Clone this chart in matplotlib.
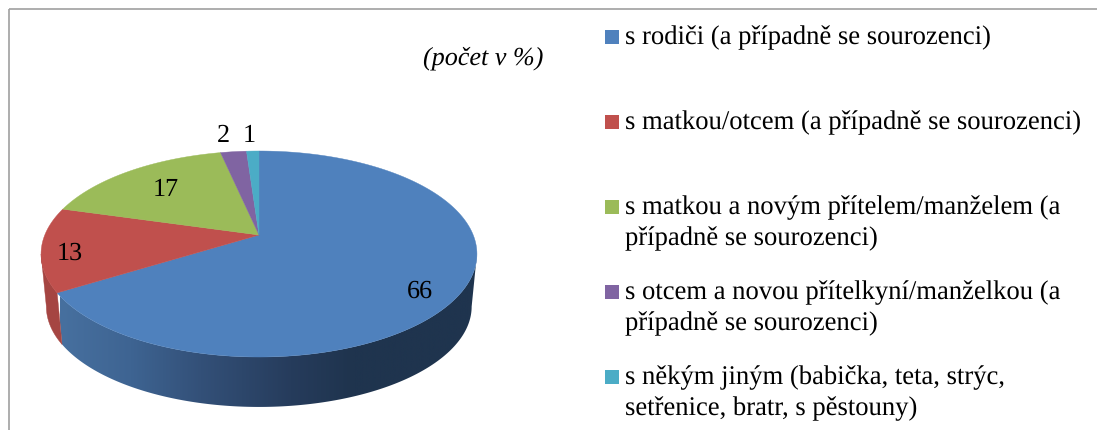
import numpy as np
import matplotlib
matplotlib.use('Agg')
import matplotlib.pyplot as plt
from matplotlib.colors import LinearSegmentedColormap, to_rgb
from matplotlib.patches import Polygon

# shares (labels show the rounded numbers)
categories = [
    's rodiči (a případně se sourozenci)',
    's matkou/otcem (a případně se sourozenci)',
    's matkou a novým přítelem/manželem (a\npřípadně se sourozenci)',
    's otcem a novou přítelkyní/manželkou (a\npřípadně se sourozenci)',
    's někým jiným (babička, teta, strýc,\nsetřenice, bratr, s pěstouny)',
]
values = [66.2, 13.2, 17.2, 2.3, 1.1]
data_labels = ['66', '13', '17', '2', '1']
colors = ['#4F81BD', '#C0504D', '#9BBB59', '#8064A2', '#4BACC6']

plt.rcParams['font.family'] = ['Liberation Serif', 'DejaVu Serif']
plt.rcParams['text.hinting'] = 'no_hinting'
plt.rcParams['text.hinting_factor'] = 8

fig = plt.figure(figsize=(10.97, 4.3), dpi=100)
ax = fig.add_axes([0, 0, 1, 1])

# tilted pie, perspective projection of the unit circle
CX = 259
K = 0.1845
# the wall only shows between the two widest points of the ellipse
FRONT = np.degrees(np.arccos(-K))


def rim(deg, a, b, cy):
    t = np.radians(deg)
    u, v = np.sin(t), np.cos(t)
    w = 1 + K * v
    return CX + a * u / w, cy - b * v / w


def top_rim(deg):
    return rim(deg, 214.2, 99.5, 235)


def bottom_rim(deg):
    return rim(deg, 209, 97, 288)


edges = np.cumsum([0] + values) / sum(values) * 360

# side walls first, the top faces cover the back part
wall_cmap = LinearSegmentedColormap.from_list('wall', [
    (0.0, '#47709F'), (0.168, '#3E6492'), (0.335, '#335078'),
    (0.55, '#263C5C'), (0.695, '#1F344E'), (1.0, '#1F344E')])
for i in range(len(values)):
    start = max(edges[i], FRONT)
    end = min(edges[i + 1], 360 - FRONT)
    if start >= end:
        continue
    d = np.linspace(start, end, 300)
    tx, ty = top_rim(d)
    bx, by = bottom_rim(d[::-1])
    outline = np.column_stack([np.r_[tx, bx], np.r_[ty, by]])
    if i == 0:
        patch = Polygon(outline, closed=True, fc='none', ec='none', transform=ax.transData)
        ax.add_patch(patch)
        img = ax.imshow(np.linspace(0, 1, 512)[None, :], cmap=wall_cmap, extent=(60, 480, 410, 150),
                        aspect='auto', zorder=2)
        img.set_clip_path(patch)
    else:
        r, g, b = to_rgb(colors[i])
        ax.fill(outline[:, 0], outline[:, 1], color=(r * 0.86, g * 0.86, b * 0.86), lw=0.3, zorder=2)

for i in range(len(values)):
    d = np.linspace(edges[i], edges[i + 1], 200)
    x, y = top_rim(d)
    ax.fill(np.r_[CX, x], np.r_[235, y], color=colors[i], lw=0.3, zorder=3)

ax.set_xlim(0, 1097)
ax.set_ylim(430, 0)
ax.axis('off')

# data labels
label_pos = [(420, 298), (70, 260), (166, 196), (223, 142), (249.5, 142)]
for txt, (lx, ly) in zip(data_labels, label_pos):
    ax.text(lx, ly, txt, fontsize=18.8, ha='center', va='baseline', color='black', zorder=5)

ax.text(483, 64, '(počet v %)', fontsize=18.8, style='italic', ha='center', va='baseline')

# legend
legend_y = [37, 122, 207, 292, 377]
for name, c, ly in zip(categories, colors, legend_y):
    ax.fill([605, 619, 619, 605], [ly - 7, ly - 7, ly + 7, ly + 7], color=c, lw=0)
    for n, line in enumerate(name.split('\n')):
        ax.text(625, ly + 7.5 + n * 31, line, fontsize=19.2, ha='left', va='baseline', color='black')

# frame, only top and left show in the crop
ax.plot([9, 1097], [8.5, 8.5], color='#A0A0A0', lw=1.2, zorder=6, solid_capstyle='butt')
ax.plot([9, 9], [8.5, 430], color='#A0A0A0', lw=1.2, zorder=6, solid_capstyle='butt')

fig.savefig('out.png', dpi=100)
